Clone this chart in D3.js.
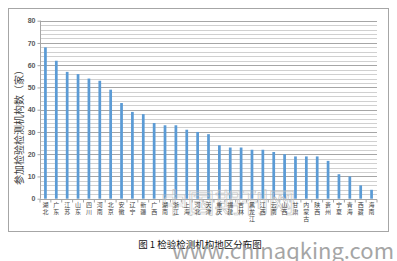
<!DOCTYPE html>
<head>
  <meta charset="utf-8">
  <style>
  body { margin: 0; background: #fff; }
  text { font-family: 'Noto Sans CJK SC', 'DejaVu Sans', sans-serif; }
  .grid line { stroke: #d0d0d0; stroke-width: 1; }
  .grid line.major { stroke: #a6a6a6; }
  .axis text { fill: #595959; font-size: 7px; font-weight: bold; font-family: 'Liberation Sans', Arial, sans-serif; }
  .axis path, .axis line { stroke: #a6a6a6; }
  </style>
</head>
<body>
  <svg id="chart"></svg>
  <script src="https://d3js.org/d3.v7.min.js"></script>
  <script>

  var width = 397,
      height = 261;

  // Provinces, in the order shown
  var provinces = ['湖北','广东','江苏','山东','四川','河南','北京','安徽','辽宁','新疆',
    '广西','湖南','浙江','上海','河北','天津','重庆','福建','吉林','黑龙江',
    '江西','云南','山西','甘肃','内蒙古','陕西','贵州','宁夏','青海','西藏','海南'];

  // Number of participating labs
  var counts = [68, 62, 57, 56, 54, 53, 49, 43, 39, 38,
    34, 33, 33, 31, 30, 29, 24, 23, 23, 22,
    22, 21, 20, 19, 19, 19, 17, 11, 10, 6, 4];

  var yTicks = [0, 10, 20, 30, 40, 50, 60, 70, 80];

  var plot = { left: 40, right: 377, top: 20.7, bottom: 198.7 };

  var svg = d3.select('#chart')
    .attr('width', width)
    .attr('height', height);

  // Outer chart frame
  svg.append('rect')
    .attr('x', 8.5).attr('y', 8.5)
    .attr('width', 380).attr('height', 223)
    .attr('fill', 'none')
    .attr('stroke', '#a6a6a6');

  var x = d3.scaleBand()
    .domain(provinces)
    .range([plot.left, plot.right])
    .paddingInner(0.75)
    .paddingOuter(0.375);

  var y = d3.scaleLinear()
    .domain([0, 80])
    .range([plot.bottom, plot.top]);

  // Gridlines: minor every 2, major every 10
  svg.append('g').attr('class', 'grid')
    .selectAll('line')
    .data(d3.range(2, 81, 2))
    .enter().append('line')
      .attr('class', function(d) { return d % 10 === 0 ? 'major' : null; })
      .attr('x1', plot.left).attr('x2', plot.right)
      .attr('y1', function(d) { return Math.round(y(d)) + 0.5; })
      .attr('y2', function(d) { return Math.round(y(d)) + 0.5; });

  // Bars
  svg.append('g')
    .selectAll('rect')
    .data(counts)
    .enter().append('rect')
      .attr('x', function(d, i) { return x(provinces[i]); })
      .attr('width', x.bandwidth())
      .attr('y', function(d) { return y(d); })
      .attr('height', function(d) { return plot.bottom - y(d); })
      .attr('fill', '#5b9bd5');

  // Y axis
  var yAxis = svg.append('g')
    .attr('class', 'axis')
    .attr('transform', 'translate(' + (plot.left + 0.5) + ',0)')
    .call(d3.axisLeft(y).tickValues(yTicks).tickSize(3).tickPadding(2));
  yAxis.select('.domain').attr('d', 'M0,' + plot.top + 'V' + plot.bottom);

  // X axis line and ticks
  var xAxis = svg.append('g')
    .attr('class', 'axis')
    .attr('transform', 'translate(0,' + (Math.round(plot.bottom) + 0.5) + ')');
  xAxis.append('line')
    .attr('x1', plot.left).attr('x2', plot.right)
    .attr('stroke', '#a6a6a6');
  xAxis.selectAll('.tk')
    .data(d3.range(provinces.length + 1))
    .enter().append('line')
      .attr('class', 'tk')
      .attr('x1', function(i) { return plot.left + i * x.step(); })
      .attr('x2', function(i) { return plot.left + i * x.step(); })
      .attr('y1', 0).attr('y2', 3)
      .attr('stroke', '#a6a6a6');

  // Watermark (drawn under the labels)
  svg.append('text')
    .attr('x', 228).attr('y', 213)
    .attr('text-anchor', 'middle')
    .attr('font-size', 27)
    .attr('fill', 'none')
    .attr('stroke', '#c4c4c4')
    .attr('stroke-width', 0.7)
    .text('中国期刊网');

  // Vertical category labels, one character per line
  var labels = svg.append('g')
    .selectAll('text')
    .data(provinces)
    .enter().append('text')
      .attr('text-anchor', 'middle')
      .attr('font-size', 6)
      .attr('fill', '#404040');
  labels.selectAll('tspan')
    .data(function(d) { return d.split('').map(function(c) { return { c: c, p: d }; }); })
    .enter().append('tspan')
      .attr('x', function(d) { return x(d.p) + x.bandwidth() / 2; })
      .attr('y', function(d, i) { return 207 + i * 7; })
      .text(function(d) { return d.c; });

  // Y axis title
  svg.append('text')
    .attr('transform', 'translate(23,125) rotate(-90)')
    .attr('text-anchor', 'middle')
    .attr('font-size', 10)
    .attr('fill', '#404040')
    .text('参加检验检测机构数（家）');

  // Caption
  svg.append('text')
    .attr('x', 200).attr('y', 248)
    .attr('text-anchor', 'middle')
    .attr('font-size', 9.5)
    .attr('fill', '#111')
    .text('图 1 检验检测机构地区分布图');

  svg.append('text')
    .attr('x', 172).attr('y', 259)
    .attr('textLength', 222)
    .attr('lengthAdjust', 'spacingAndGlyphs')
    .attr('font-size', 21)
    .attr('font-family', 'DejaVu Sans, sans-serif')
    .attr('fill', '#888')
    .attr('opacity', 0.75)
    .text('www.chinaqking.com');

  </script>
</body>
